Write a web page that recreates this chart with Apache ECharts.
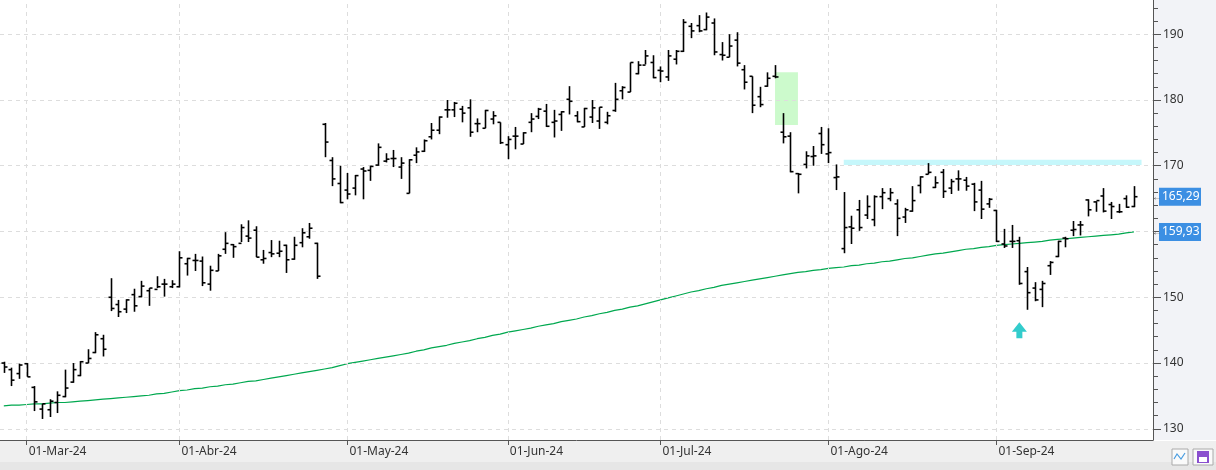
<!DOCTYPE html>
<html><head><meta charset="utf-8">
<script src="https://cdn.jsdelivr.net/npm/echarts@6/dist/echarts.min.js"></script>
<style>html,body{margin:0;padding:0;background:#fff}#c{width:1216px;height:470px}</style>
</head><body><div id="c"></div>
<script>
// OHLC bars [open, high, low, close]
const opens  = [140,139,138.4,139.9,136.3,133,132.9,134,134.9,137.1,138.1,140,141.6,143.7,150,148.9,148.2,150.4,150.1,151,151.2,152,151.6,151.6,155.1,155.6,155.5,152,154,157.3,158,158.2,159.3,160.2,155.7,156.8,156.7,157.9,155.8,158.3,159.2,158.2,176.3,170.8,167.3,166.3,166.6,169.5,169.3,170.1,170.7,171.1,169.8,165.8,171.6,172.2,174.4,175.4,178.5,178.5,178.6,178.8,176.4,175.7,177.1,176.6,173.2,174.5,173.3,176.6,177.5,178.3,176.6,177.8,180.1,177.6,175.9,177.4,176.8,176.6,178.4,181.4,181.2,184,185.3,185.7,184.5,183.5,186.2,187.4,191.2,191.3,190.7,191.7,186.9,186.5,189.1,184.6,183.6,180.5,182.1,183.6,175.1,174.5,168.8,170.2,171.4,174.9,171.8,168.2,157.4,160.7,163.3,162.5,161.8,165.3,165,164.2,162.2,163.1,167,168.7,166.7,169,166.6,168,167.8,167.2,166.3,164.2,163.2,158.1,158.5,158.6,153.9,151.4,151.2,154.8,156.2,159,160.2,161,164.8,164.5,165.4,164.1,163,165,163.8];
const highs  = [140.2,139.3,139.9,140,136.5,133.8,134.5,135.7,139,140,140.3,142.1,144.7,144.3,152.9,149.6,149.7,151.3,152.5,151.4,153.2,152.8,152.6,157,156,156.6,156.2,154.8,156.6,159.9,158.1,161.1,161.7,160.8,157.2,158.7,158.6,158,159.2,160.5,161.3,158.3,176.5,171.3,170,168.9,168.6,169.8,170,173.4,171.9,172.4,171.3,171,172.8,174,176.5,177.5,180,179.7,179.1,180.1,177.2,178.5,178.3,176.6,174.5,175.9,175.1,178,178.8,179.4,178.5,178.3,182.1,178.3,178.8,180,178.9,178.2,182.6,182.1,185.7,185.9,187.6,186.8,185.1,187.6,187.6,192.3,191.7,192.9,193.3,192.4,188.8,190,190.3,185.3,183.6,182,184.2,185.3,178,175.1,168.9,172.2,173,175.9,175.7,170.2,166,162.4,164.8,165.5,165.5,166.6,166.6,164.9,163.6,166.9,168.4,170.4,168.4,169.5,168,169.3,168.3,167.4,167.7,165.1,163.3,160.4,161,159.2,154.6,152.3,152.5,155.5,158.6,159.2,161.6,161.6,164.9,164.6,166.6,164.5,164.2,165.5,166.9];
const lows   = [138.5,136.5,137.6,137.9,132.7,131.5,131.8,132.4,134.8,137,138,140,141.5,141,147.9,147,147.6,147.8,150,148.7,151.4,150.1,151.4,151.5,153.3,154,151.7,151,154,156.6,156,158.4,158.4,156.1,155.1,156.1,156.1,153.7,155.7,157.6,158.9,152.8,171.3,166.9,164.3,164.9,165.5,164.9,167.7,170,170.5,169.8,168,165.8,170.4,172.1,174,174.8,177.3,177.4,176.6,174.4,175.1,175.7,176.3,173.3,171,172.5,173.3,175.1,177.1,175.9,174.3,175.3,177.8,176.6,175.9,176.5,175.6,176.3,178.2,180.1,181.2,183.9,185.4,183.3,182.7,182.9,185.4,187.3,189.4,190.3,190.6,186.8,186,186.5,185.1,181.6,178,178.9,182,183.3,173.4,169,165.8,169.6,170,171.8,170.4,166.3,156.7,158.1,160.1,161.9,160.8,163.4,164.6,159.3,161.3,163,165.8,168.7,166.6,165.1,165.7,166.2,166.2,163.1,161.9,163.6,158.4,157.5,157.5,151.9,148.1,149.4,148.5,153.4,156.1,157.6,159.3,159.4,162.3,163,162.9,161.9,162.8,163.6,163.7];
const closes = [139.4,137.4,139.7,137.9,134.1,133.8,134.2,135.1,136.2,139,140.2,140.7,144.3,142.1,148.3,147.8,149.6,148.7,151.7,151.4,151.6,152,152,156,155.9,155.6,152.2,154.1,156.3,158.2,157.7,160.6,159,156.1,155.9,156.6,157,155.7,157.9,159.8,160.5,153.2,173.6,168,164.4,165.7,168.5,169.2,169.9,172.8,171,171.1,170.4,170.9,172.1,173.8,175.4,177.4,178.5,179.5,178,175.1,176.4,178.4,177.6,173.5,174,174.5,175,177.1,178.6,176,176.8,178.2,179.8,176.7,178.7,178.8,178.9,177.6,180.1,181.9,185.7,185.3,186.7,183.4,184.4,186.7,187.4,191.8,190.5,190.5,192.6,187.3,186.8,188.2,185.6,182.7,179.2,179.3,183.3,183.5,174.4,169.1,168.7,171.5,171.5,173.2,172,168.3,160.6,160.5,160.6,163.8,165.3,165.9,165.9,162,163.3,164.7,168.3,169,167.4,166.1,167.6,168,166.9,164.5,163.4,164.9,158.5,157.8,158.5,152.1,150.7,149.6,152.1,155.3,158.5,158.9,160.3,161,163.3,164.7,163.1,163.8,163,163.7,165.29];
// moving average
const ma = [133.5,133.6,133.6,133.7,133.8,133.8,133.9,134.0,134.0,134.1,134.2,134.3,134.4,134.5,
134.6,134.7,134.8,134.9,135.0,135.1,135.3,135.4,135.6,135.8,
135.9,136.1,136.2,136.4,136.5,136.7,136.8,137.0,137.2,137.3,137.5,
137.7,137.9,138.1,138.3,138.5,138.7,138.9,139.1,139.3,139.6,139.9,
140.1,140.3,140.5,140.7,140.9,141.1,141.3,141.5,141.8,142.0,142.3,
142.5,142.7,143.0,143.2,143.4,143.7,143.9,144.2,144.4,144.7,
144.9,145.1,145.3,145.6,145.8,146.0,146.3,146.5,146.7,147.0,147.2,
147.5,147.7,148.0,148.2,148.5,148.7,149.0,149.3,149.6,
149.9,150.2,150.5,150.8,151.0,
151.3,151.5,151.8,152.0,152.2,152.4,152.6,152.8,
153.0,153.2,153.4,153.6,153.8,153.9,154.1,154.2,154.4,
154.5,154.6,154.8,154.9,155.1,155.2,155.4,155.5,155.7,
155.9,156.0,156.2,156.4,156.6,156.7,156.9,157.1,157.3,157.4,157.6,157.7,157.9,
158.0,158.1,158.2,158.3,158.4,158.5,158.7,158.8,
158.9,159.0,159.1,159.2,159.3,159.4,159.5,159.6,159.8,159.93];
const monthIdx = [3,23,45,66,86,108,130];
const monthLabels = ['01-Mar-24','01-Abr-24','01-May-24','01-Jun-24','01-Jul-24','01-Ago-24','01-Sep-24'];
const yGrid = [130,140,150,160,170,180,190];
const yMinor = [130,132,134,136,138,140,142,144,146,148,150,152,154,156,158,160,162,164,166,168,170,172,174,176,178,180,182,184,186,188,190,192,194];
const greenZone = {from:101,to:104,low:176.2,high:184.2};
const cyanZone = {from:110,to:149,low:170.1,high:170.9};
const arrowPt = {idx:133, price:145.0};
const emptySlotsRight = 2;

const cats = closes.map((_, i) => String(i));
for (let k = 0; k < emptySlotsRight; k++) cats.push(String(closes.length + k));
const ohlc = closes.map((c, i) => [i, opens[i], highs[i], lows[i], c]);
const labelMap = {}; monthIdx.forEach((k, j) => labelMap[k] = monthLabels[j]);

const chart = echarts.init(document.getElementById('c'));
const font = 'Noto Sans';
chart.setOption({
  animation:false,
  backgroundColor:'#fff',
  grid:{left:0,right:63,top:0,bottom:30,containLabel:false},
  xAxis:{type:'category',data:cats,boundaryGap:true,
    axisLine:{lineStyle:{color:'#555'}},
    axisTick:{show:true,alignWithLabel:true,length:5,lineStyle:{color:'#555'},interval:(i)=>labelMap[i]!==undefined},
    axisLabel:{interval:(i)=>labelMap[i]!==undefined,formatter:(v,i)=>labelMap[i]||'',align:'left',padding:[0,0,0,2],margin:6,color:'#333',fontFamily:font,fontSize:12},
    splitLine:{show:false}},
  yAxis:[
    {type:'value',position:'right',min:128.3,max:195.2,
     axisLine:{show:true,lineStyle:{color:'#555'}},
     axisTick:{show:true,length:8,customValues:yGrid,lineStyle:{color:'#555'}},
     axisLabel:{customValues:yGrid,color:'#333',fontFamily:font,fontSize:12,margin:10},
     splitLine:{show:false}},
    {type:'value',position:'right',min:128.3,max:195.2,
     axisLine:{show:false},axisLabel:{show:false},splitLine:{show:false},
     axisTick:{show:true,length:5,customValues:yMinor,lineStyle:{color:'#555'}}}
  ],
  series:[
    {type:'custom',name:'ohlc',data:ohlc,encode:{x:0,y:[1,2,3,4]},z:5,
     renderItem:(params,api)=>{
       const i=api.value(0);
       const o=api.coord([i,api.value(1)]), h=api.coord([i,api.value(2)]), l=api.coord([i,api.value(3)]), c=api.coord([i,api.value(4)]);
       const x=Math.round(h[0])+0.5, s={stroke:'#000',lineWidth:1.6};
       return {type:'group',children:[
         {type:'line',shape:{x1:x,y1:h[1],x2:x,y2:l[1]},style:s},
         {type:'line',shape:{x1:x-3,y1:o[1],x2:x,y2:o[1]},style:s},
         {type:'line',shape:{x1:x,y1:c[1],x2:x+3,y2:c[1]},style:s}]};
     },
     markArea:{silent:true,data:[
       [{xAxis:String(greenZone.from),yAxis:greenZone.high,itemStyle:{color:'#ccfacc'}},{xAxis:String(greenZone.to),yAxis:greenZone.low}],
       [{xAxis:String(cyanZone.from),yAxis:cyanZone.high,itemStyle:{color:'#c6f7fb'}},{xAxis:String(cyanZone.to),yAxis:cyanZone.low}]
     ]},
     markPoint:{silent:true,data:[{coord:[String(arrowPt.idx),arrowPt.price],symbol:'path://M5,0 L10,6 L7,6 L7,10 L3,10 L3,6 L0,6 Z',symbolSize:[15,16],itemStyle:{color:'#33cccc'},label:{show:false}}]}
    },
    {type:'line',name:'ma',data:ma,showSymbol:false,symbol:'none',z:4,lineStyle:{color:'#00a84f',width:1.2},
     markLine:{silent:true,symbol:'none',label:{show:false},lineStyle:{color:'#dddddd',type:[4,4],width:1},
       data:yGrid.map(v=>({yAxis:v})).concat(monthIdx.map(k=>({xAxis:String(k)})))}}
  ]
});
const yLast = chart.convertToPixel({yAxisIndex:0}, closes[closes.length-1]);
const yMa = chart.convertToPixel({yAxisIndex:0}, ma[ma.length-1]);
function tag(y, txt){
  return [{type:'rect',z:20,shape:{x:1159,y:y-9,width:42,height:18},style:{fill:'#3c8fe3'}},
    {type:'text',z:21,x:1162,y:y,style:{text:txt,fill:'#fff',font:'12px Noto Sans',verticalAlign:'middle'}},
    {type:'text',z:21,x:1152,y:y,style:{text:'←',fill:'#555',font:'10px Noto Sans',verticalAlign:'middle'}}];
}
chart.setOption({graphic:[
  {type:'rect',z:-10,shape:{x:1153,y:0,width:63,height:440},style:{fill:'#f2f3f7'}},
  {type:'rect',z:-10,shape:{x:0,y:441,width:1216,height:21},style:{fill:'#efefef'}},
  {type:'rect',z:-10,shape:{x:0,y:462,width:1216,height:8},style:{fill:'#e6e6e6'}},
  {type:'rect',z:10,shape:{x:1172,y:449,width:16,height:16},style:{fill:'#fafafa',stroke:'#aaa'}},
  {type:'polyline',z:11,shape:{points:[[1174,459],[1177,454],[1181,459],[1185,453]]},style:{stroke:'#4a9de0',fill:null,lineWidth:1.2}},
  {type:'rect',z:10,shape:{x:1193,y:449,width:20,height:16},style:{fill:'#fafafa',stroke:'#aaa'}},
  {type:'rect',z:11,shape:{x:1197,y:451,width:12,height:12},style:{fill:'#8a4fcf'}},
  {type:'rect',z:12,shape:{x:1199,y:457,width:8,height:5},style:{fill:'#fff'}}
].concat(tag(yLast,'165,29')).concat(tag(yMa,'159,93'))});
</script></body></html>
